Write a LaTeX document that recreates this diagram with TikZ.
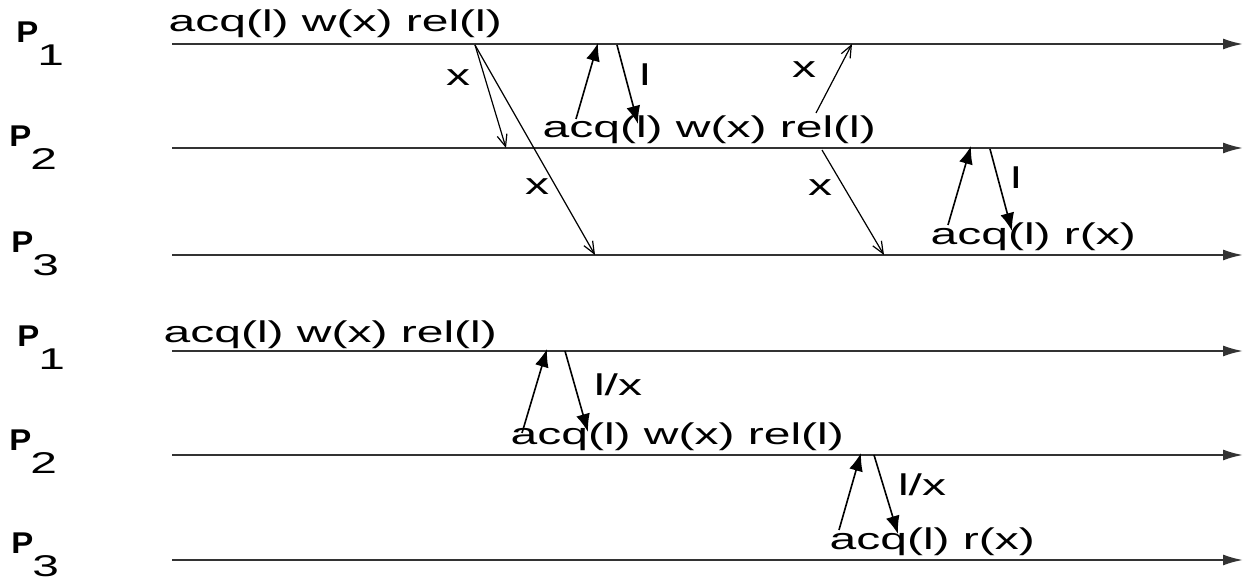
\documentclass[tikz,border=0pt]{standalone}
\usepackage{fontspec}
\setmainfont{Liberation Sans}
\usetikzlibrary{arrows.meta}
\tikzset{
  tline/.style={line width=1pt, draw=black!80, -{Latex[length=10pt,width=5.5pt]}},
  msg/.style={line width=0.6pt, -{Straight Barb[length=6pt,width=5pt]}},
  lck/.style={line width=0.8pt, -{Latex[length=9pt,width=7pt]}},
  ev/.style={font=\fontsize{15}{18}\selectfont, xscale=1.6, inner sep=0pt, anchor=base west},
  lbl/.style={font=\fontsize{15}{18}\selectfont, xscale=1.6, inner sep=0pt},
  proc/.style={font=\fontsize{15}{18}\selectfont, xscale=1.1, inner sep=0pt, anchor=base west}}
\newcommand{\pname}[1]{\textbf{P}\kern-0.5pt\raisebox{-11.5pt}{\scalebox{1.45}[1]{#1}}}

\begin{document}
\begin{tikzpicture}[x=0.5pt, y=-0.5pt]
\useasboundingbox (0,0) rectangle (1244,581);
% process lines
\foreach \n/\y in {1/44,2/148,3/255,4/351,5/455,6/560} {
  \coordinate (s\n) at (172,\y);
  \coordinate (e\n) at (1243,\y);
  \draw[tline] (s\n) -- (e\n);}
\foreach \n/\x/\y/\k in {1/16/43/1,2/9/147/2,3/11/253/3,4/17/347/1,5/9/451/2,6/11/554/3}
  \node[proc] (p\n) at (\x,\y) {\pname{\k}};
% upper run
\node[ev] (t1) at (168,32) {acq(l) w(x) rel(l)};
\node[ev] (t2) at (542,138) {acq(l) w(x) rel(l)};
\node[ev] (t3) at (930,245) {acq(l) r(x)};
\coordinate (w1) at (475,45);
\coordinate (w2) at (506,148);
\coordinate (w3) at (595,255);
\coordinate (a1) at (576,119);
\coordinate (a2) at (598,43);
\coordinate (g1) at (617,45);
\coordinate (g2) at (638,124);
\coordinate (w4) at (816,113);
\coordinate (w5) at (852,44);
\coordinate (w6) at (822,150);
\coordinate (w7) at (884,255);
\coordinate (a3) at (948,225);
\coordinate (a4) at (971,146);
\coordinate (g3) at (990,149);
\coordinate (g4) at (1012,231);
\draw[msg] (w1) -- (w2);
\draw[msg] (w1) -- (w3);
\draw[lck] (a1) -- (a2);
\draw[lck] (g1) -- (g2);
\draw[msg] (w4) -- (w5);
\draw[msg] (w6) -- (w7);
\draw[lck] (a3) -- (a4);
\draw[lck] (g3) -- (g4);
\node[lbl] (x1) at (458,78) {x};
\node[lbl] (x2) at (537,187) {x};
\node[lbl] (x3) at (804,70) {x};
\node[lbl] (x4) at (820,188) {x};
\node[lbl] (l1) at (645,75) {l};
\node[lbl] (l2) at (1016,178) {l};
% lower run
\node[ev] (t4) at (163,343) {acq(l) w(x) rel(l)};
\node[ev] (t5) at (510,445) {acq(l) w(x) rel(l)};
\node[ev] (t6) at (829,550) {acq(l) r(x)};
\coordinate (a5) at (522,433);
\coordinate (a6) at (547,349);
\coordinate (g5) at (565,351);
\coordinate (g6) at (588,432);
\coordinate (a7) at (839,530);
\coordinate (a8) at (861,453);
\coordinate (g7) at (874,455);
\coordinate (g8) at (898,534);
\draw[lck] (a5) -- (a6);
\draw[lck] (g5) -- (g6);
\draw[lck] (a7) -- (a8);
\draw[lck] (g7) -- (g8);
\node[lbl] (lx1) at (618,385) {l/x};
\node[lbl] (lx2) at (922,485) {l/x};
\end{tikzpicture}
\end{document}
